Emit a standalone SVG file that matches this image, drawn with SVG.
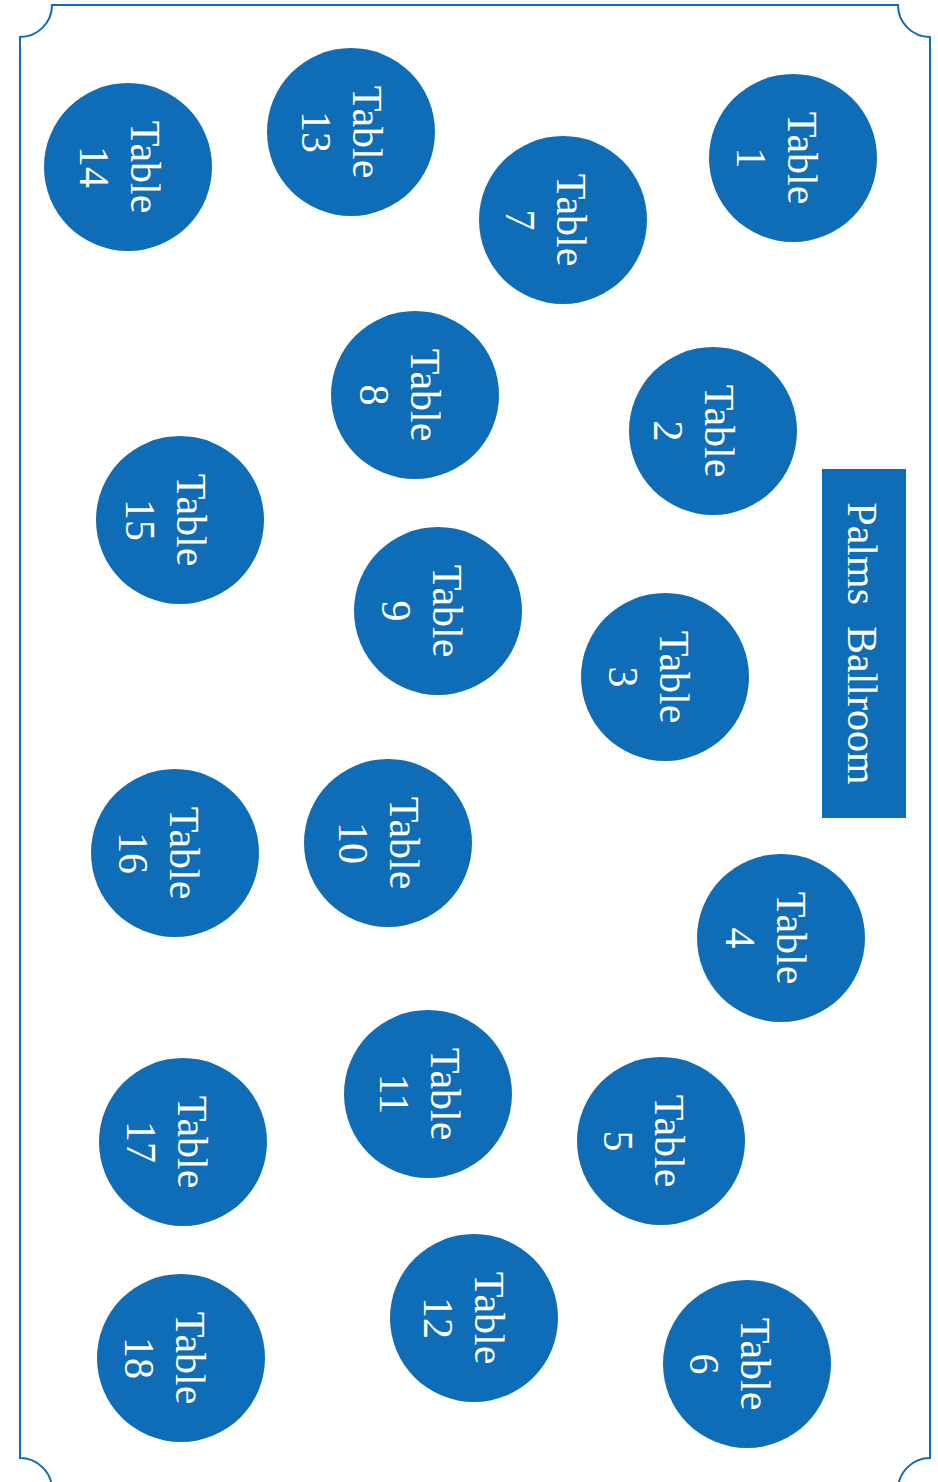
<svg xmlns="http://www.w3.org/2000/svg" width="938" height="1482" viewBox="0 0 938 1482">
<style>
.t{fill:#0f6cb6}
.l{fill:#ffffff;font-family:"Liberation Serif","Times New Roman",serif;font-size:42px;text-anchor:middle}
.frame{fill:none;stroke:#0f6cb6;stroke-width:2}
</style>
<rect width="938" height="1482" fill="#ffffff"/>
<g id="frame"><path class="frame" d="M52,5 H898 A32,32 0 0 0 930,37 V1458 A32,32 0 0 0 898,1490 H52 A32,32 0 0 0 20,1458 V37 A32,32 0 0 0 52,5 Z"/></g>
<g id="stage"><rect class="t" x="822" y="469" width="84" height="349"/><text class="l" transform="translate(848,643.5) rotate(90)" xml:space="preserve">Palms  Ballroom</text></g>
<g id="connectors"></g>
<g id="table1"><circle class="t" cx="793" cy="158" r="84"/><text class="l" transform="translate(788,158) rotate(90)"><tspan x="0" y="0">Table</tspan><tspan x="0" y="51">1</tspan></text></g>
<g id="table7"><circle class="t" cx="563" cy="220" r="84"/><text class="l" transform="translate(557,220) rotate(90)"><tspan x="0" y="0">Table</tspan><tspan x="0" y="51">7</tspan></text></g>
<g id="table13"><circle class="t" cx="351" cy="132" r="84"/><text class="l" transform="translate(353,132) rotate(90)"><tspan x="0" y="0">Table</tspan><tspan x="0" y="51">13</tspan></text></g>
<g id="table14"><circle class="t" cx="128" cy="167" r="84"/><text class="l" transform="translate(131,167) rotate(90)"><tspan x="0" y="0">Table</tspan><tspan x="0" y="51">14</tspan></text></g>
<g id="table8"><circle class="t" cx="415" cy="395" r="84"/><text class="l" transform="translate(411,395) rotate(90)"><tspan x="0" y="0">Table</tspan><tspan x="0" y="51">8</tspan></text></g>
<g id="table2"><circle class="t" cx="713" cy="431" r="84"/><text class="l" transform="translate(705,431) rotate(90)"><tspan x="0" y="0">Table</tspan><tspan x="0" y="51">2</tspan></text></g>
<g id="table15"><circle class="t" cx="180" cy="520" r="84"/><text class="l" transform="translate(177,520) rotate(90)"><tspan x="0" y="0">Table</tspan><tspan x="0" y="51">15</tspan></text></g>
<g id="table9"><circle class="t" cx="438" cy="611" r="84"/><text class="l" transform="translate(433,611) rotate(90)"><tspan x="0" y="0">Table</tspan><tspan x="0" y="51">9</tspan></text></g>
<g id="table3"><circle class="t" cx="665" cy="677" r="84"/><text class="l" transform="translate(660,677) rotate(90)"><tspan x="0" y="0">Table</tspan><tspan x="0" y="51">3</tspan></text></g>
<g id="table16"><circle class="t" cx="175" cy="853" r="84"/><text class="l" transform="translate(170,853) rotate(90)"><tspan x="0" y="0">Table</tspan><tspan x="0" y="51">16</tspan></text></g>
<g id="table10"><circle class="t" cx="388" cy="843" r="84"/><text class="l" transform="translate(390,843) rotate(90)"><tspan x="0" y="0">Table</tspan><tspan x="0" y="51">10</tspan></text></g>
<g id="table4"><circle class="t" cx="781" cy="938" r="84"/><text class="l" transform="translate(777,938) rotate(90)"><tspan x="0" y="0">Table</tspan><tspan x="0" y="51">4</tspan></text></g>
<g id="table11"><circle class="t" cx="428" cy="1094" r="84"/><text class="l" transform="translate(431,1094) rotate(90)"><tspan x="0" y="0">Table</tspan><tspan x="0" y="51">11</tspan></text></g>
<g id="table5"><circle class="t" cx="661" cy="1141" r="84"/><text class="l" transform="translate(655,1141) rotate(90)"><tspan x="0" y="0">Table</tspan><tspan x="0" y="51">5</tspan></text></g>
<g id="table17"><circle class="t" cx="183" cy="1142" r="84"/><text class="l" transform="translate(178,1142) rotate(90)"><tspan x="0" y="0">Table</tspan><tspan x="0" y="51">17</tspan></text></g>
<g id="table12"><circle class="t" cx="474" cy="1318" r="84"/><text class="l" transform="translate(475,1318) rotate(90)"><tspan x="0" y="0">Table</tspan><tspan x="0" y="51">12</tspan></text></g>
<g id="table6"><circle class="t" cx="747" cy="1364" r="84"/><text class="l" transform="translate(741,1364) rotate(90)"><tspan x="0" y="0">Table</tspan><tspan x="0" y="51">6</tspan></text></g>
<g id="table18"><circle class="t" cx="181" cy="1358" r="84"/><text class="l" transform="translate(176,1358) rotate(90)"><tspan x="0" y="0">Table</tspan><tspan x="0" y="51">18</tspan></text></g>
</svg>
